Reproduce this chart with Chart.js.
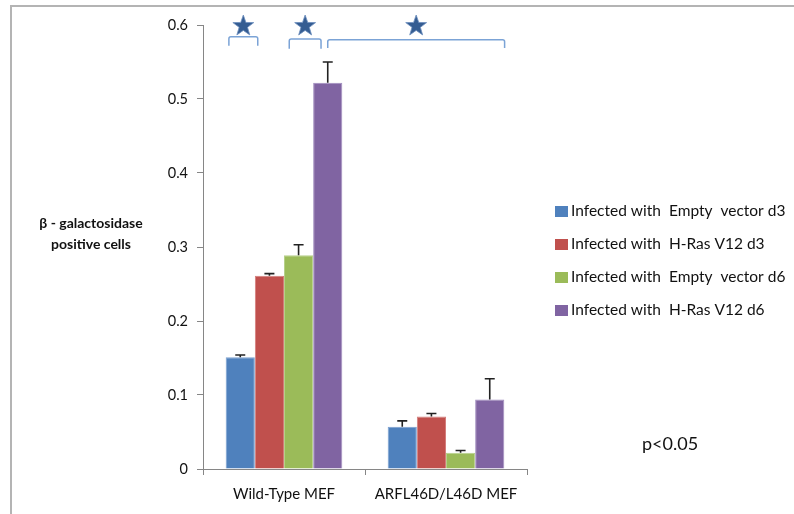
<!DOCTYPE html>
<html><head><meta charset="utf-8">
<script src="https://cdn.jsdelivr.net/npm/chart.js@4.4.0/dist/chart.umd.min.js"></script>
<style>html,body{margin:0;padding:0;background:#fff;}#wrap{width:794px;height:514px;position:relative}</style>
</head><body><div id="wrap"><canvas id="c" width="794" height="514"></canvas></div>
<script>
const categories = ['Wild-Type MEF', 'ARFL46D/L46D MEF'];
const seriesNames = ['Infected with  Empty  vector d3', 'Infected with  H-Ras V12 d3', 'Infected with  Empty  vector d6', 'Infected with  H-Ras V12 d6'];
const emptyD3 = [0.151, 0.057];
const rasD3 = [0.261, 0.071];
const emptyD6 = [0.289, 0.022];
const rasD6 = [0.522, 0.094];
const errEmptyD3 = [0.003, 0.008];
const errRasD3 = [0.003, 0.004];
const errEmptyD6 = [0.014, 0.003];
const errRasD6 = [0.028, 0.028];
const yTickValues = [0, 0.1, 0.2, 0.3, 0.4, 0.5, 0.6];
const yTitleLines = ['β - galactosidase', 'positive cells'];
const noteText = 'p<0.05';
// significance brackets: [dataset, category, offset in bar widths] for start and end, top value
const bracketStart = [[0, 0, -0.39], [2, 0, -0.32], [3, 0, 0.0]];
const bracketEnd = [[0, 0, 0.6], [2, 0, 0.77], [3, 1, 0.51]];
const bracketTop = [0.584, 0.581, 0.580];
const bracketLeg = [0.012, 0.013, 0.011];
const starValue = 0.6;

const colors = ['#4f81bd', '#c0504d', '#9bbb59', '#8064a2'];
const borders = ['#7a9fd0', '#d47d7b', '#b6d08a', '#a08cbf'];
const values = [emptyD3, rasD3, emptyD6, rasD6];
const errors = [errEmptyD3, errRasD3, errEmptyD6, errRasD6];
const FONT = 'Lato, "Liberation Sans", sans-serif';

function drawStar(ctx, cx, cy, R, r) {
  ctx.beginPath();
  for (let i = 0; i < 10; i++) {
    const a = -Math.PI / 2 + i * Math.PI / 5;
    const rad = i % 2 === 0 ? R : r;
    const x = cx + rad * Math.cos(a), y = cy + rad * Math.sin(a);
    if (i === 0) ctx.moveTo(x, y); else ctx.lineTo(x, y);
  }
  ctx.closePath();
}

const extras = {
  id: 'extras',
  afterDatasetsDraw(chart) {
    const ctx = chart.ctx;
    const ys = chart.scales.y;
    ctx.save();
    ctx.strokeStyle = '#222';
    ctx.lineWidth = 1.6;
    values.forEach((vals, di) => {
      const meta = chart.getDatasetMeta(di);
      meta.data.forEach((bar, ci) => {
        const top = ys.getPixelForValue(vals[ci]);
        const hi = ys.getPixelForValue(vals[ci] + errors[di][ci]);
        ctx.beginPath();
        ctx.moveTo(bar.x, top);
        ctx.lineTo(bar.x, hi);
        ctx.moveTo(bar.x - 5, hi);
        ctx.lineTo(bar.x + 5, hi);
        ctx.stroke();
      });
    });
    ctx.restore();
  },
  afterDraw(chart) {
    const ctx = chart.ctx;
    const ys = chart.scales.y;
    ctx.save();
    ctx.strokeStyle = '#b4b4b4';
    ctx.lineWidth = 2;
    ctx.beginPath();
    ctx.moveTo(11, 514);
    ctx.lineTo(11, 6);
    ctx.lineTo(794, 6);
    ctx.stroke();

    const px = (spec) => {
      const bar = chart.getDatasetMeta(spec[0]).data[spec[1]];
      return bar.x + spec[2] * bar.width;
    };
    bracketStart.forEach((s, i) => {
      const x1 = px(s), x2 = px(bracketEnd[i]);
      const yt = ys.getPixelForValue(bracketTop[i]);
      const yb = ys.getPixelForValue(bracketTop[i] - bracketLeg[i]);
      ctx.strokeStyle = '#7ba3d6';
      ctx.lineWidth = 1.5;
      ctx.beginPath();
      ctx.moveTo(x1, yb);
      ctx.lineTo(x1, yt + 2);
      ctx.quadraticCurveTo(x1, yt, x1 + 2, yt);
      ctx.lineTo(x2 - 2, yt);
      ctx.quadraticCurveTo(x2, yt, x2, yt + 2);
      ctx.lineTo(x2, yb);
      ctx.stroke();
      const cx = (x1 + x2) / 2;
      const cy = ys.getPixelForValue(starValue);
      drawStar(ctx, cx, cy + 1, 11, 4.4);
      ctx.fillStyle = '#355d92';
      ctx.fill();
      ctx.strokeStyle = '#6d8fbf';
      ctx.lineWidth = 0.8;
      ctx.stroke();
    });

    ctx.fillStyle = '#111';
    ctx.font = 'bold 14px ' + FONT;
    ctx.textAlign = 'center';
    ctx.textBaseline = 'middle';
    ctx.fillText(yTitleLines[0], 91, 223);
    ctx.fillText(yTitleLines[1], 91, 244);

    ctx.font = '15.5px ' + FONT;
    ctx.textAlign = 'left';
    const legY = [211, 244, 277, 310];
    seriesNames.forEach((n, i) => {
      ctx.fillStyle = colors[i];
      ctx.fillRect(555, legY[i] - 5, 13, 11);
      ctx.fillStyle = '#111';
      ctx.fillText(n, 571, legY[i]);
    });

    ctx.font = '18px ' + FONT;
    ctx.fillText(noteText, 642, 444);
    ctx.restore();
  }
};

const chart = new Chart(document.getElementById('c'), {
  type: 'bar',
  data: {
    labels: categories,
    datasets: values.map((v, i) => ({
      label: seriesNames[i],
      data: v,
      backgroundColor: colors[i],
      borderColor: borders[i],
      borderWidth: 1,
      barPercentage: 1.0,
      categoryPercentage: 0.72
    }))
  },
  options: {
    responsive: false,
    animation: false,
    devicePixelRatio: 1,
    layout: { padding: { left: 1, right: 267, top: 25, bottom: 0 } },
    plugins: { legend: { display: false }, tooltip: { enabled: false } },
    scales: {
      x: {
        afterFit(s) { s.height = 45; },
        grid: { display: true, drawOnChartArea: false, drawTicks: true, tickLength: 6, color: '#868686', offset: true },
        border: { display: true, color: '#868686', width: 1 },
        ticks: { color: '#111', font: { family: FONT, size: 15 }, padding: 10 }
      },
      y: {
        min: 0, max: 0.6,
        afterFit(s) { s.width = 202; },
        afterBuildTicks(s) { s.ticks = yTickValues.map(v => ({ value: v })); },
        grid: { display: true, drawOnChartArea: false, drawTicks: true, tickLength: 6, color: '#868686' },
        border: { display: true, color: '#868686', width: 1 },
        ticks: {
          color: '#111', font: { family: FONT, size: 14.5 }, padding: 9,
          callback: (v) => String(Math.round(v * 10) / 10)
        }
      }
    }
  },
  plugins: [extras]
});
</script></body></html>
